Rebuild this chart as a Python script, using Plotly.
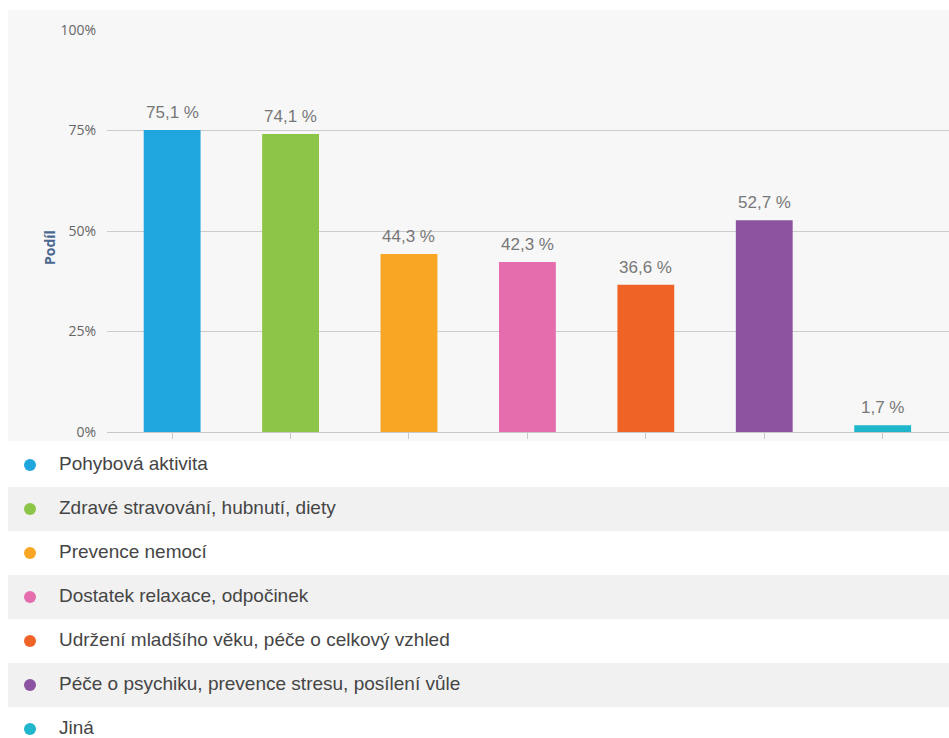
import plotly.graph_objects as go

categories = [
    "Pohybová aktivita",
    "Zdravé stravování, hubnutí, diety",
    "Prevence nemocí",
    "Dostatek relaxace, odpočinek",
    "Udržení mladšího věku, péče o celkový vzhled",
    "Péče o psychiku, prevence stresu, posílení vůle",
    "Jiná",
]
values = [75.1, 74.1, 44.3, 42.3, 36.6, 52.7, 1.7]
colors = ["#1fa6df", "#8cc548", "#f8a623", "#e56dad", "#ef6426", "#8c53a0", "#1fb6cc"]
y_ticks = [0, 25, 50, 75, 100]
y_tick_text = ["0%", "25%", "50%", "75%", "100%"]

W, H = 949, 738
def py(p):
    return 1 - p / H

fig = go.Figure()

xs = list(range(len(categories)))
fig.add_trace(go.Bar(
    x=xs, y=values,
    marker=dict(color=colors, line=dict(width=0)),
    width=0.48,
    hoverinfo="skip", showlegend=False,
    xaxis="x", yaxis="y",
))

n = len(categories)
fig.add_trace(go.Scatter(
    x=[30] * n, y=list(range(n)), mode="markers",
    marker=dict(color=colors, size=12),
    xaxis="x2", yaxis="y2", showlegend=False, hoverinfo="skip",
))
fig.add_trace(go.Scatter(
    x=[59] * n, y=list(range(n)), mode="text", text=categories,
    textposition="middle right",
    textfont=dict(size=19, color="#454545", family="Liberation Sans"),
    xaxis="x2", yaxis="y2", showlegend=False, hoverinfo="skip",
))

annotations = [dict(text="<b>Podíl</b>", x=38 / W, y=py(228), xref="paper",
                    yref="paper", textangle=-90, showarrow=False,
                    font=dict(size=14, color="#4a6890", family="Open Sans"))]
for x, v in zip(xs, values):
    annotations.append(dict(
        x=x, y=v, xref="x", yref="y", text=f"{v:.1f}".replace(".", ",") + " %",
        showarrow=False, yanchor="bottom", yshift=6,
        font=dict(size=17, color="#777777", family="Liberation Sans")))

row_top, row_h = 443, 44.0
shapes = [dict(type="rect", xref="paper", yref="paper", x0=8 / W, x1=1,
               y0=py(441), y1=py(10), fillcolor="#f7f7f7", line=dict(width=0),
               layer="below")]
for i in range(n):
    if i % 2 == 1:
        shapes.append(dict(type="rect", xref="paper", yref="y2", x0=8 / W, x1=1,
                           y0=i - 0.5, y1=i + 0.5, fillcolor="#f1f1f1",
                           line=dict(width=0), layer="below"))

fig.update_layout(
    width=W, height=H, margin=dict(l=0, r=0, t=0, b=0, pad=0, autoexpand=False),
    paper_bgcolor="white", plot_bgcolor="rgba(0,0,0,0)",
    shapes=shapes, annotations=annotations,
    xaxis=dict(domain=[107 / W, 1], range=[-0.55, 6.56], showgrid=False,
               zeroline=False, showline=True, linecolor="#c8c8c8", linewidth=1,
               ticks="outside", ticklen=6, tickcolor="#c8c8c8",
               tickvals=xs, showticklabels=False, fixedrange=True),
    yaxis=dict(domain=[py(432), py(30)], range=[0, 100], tickvals=y_ticks,
               ticktext=y_tick_text, showgrid=True, gridcolor="#cccccc",
               gridwidth=1, zeroline=False, ticklabelstandoff=10, automargin=False,
               tickfont=dict(size=14, color="#666666", family="Open Sans")),
    xaxis2=dict(domain=[0, 1], range=[0, W], visible=False, anchor="y2"),
    yaxis2=dict(domain=[0, py(row_top)], range=[-0.5 + (H - row_top) / row_h, -0.5],
                visible=False, anchor="x2"),
)

fig.write_html("out.html")
